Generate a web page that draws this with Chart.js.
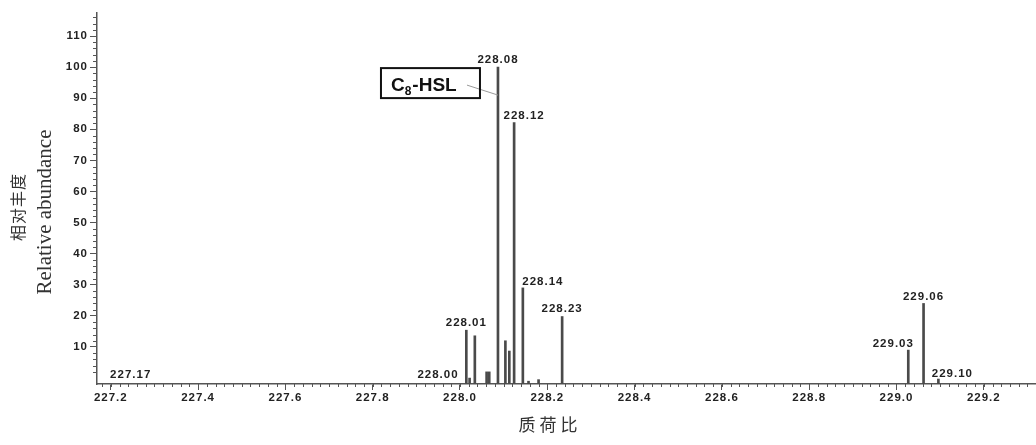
<!DOCTYPE html>
<html>
<head>
<meta charset="utf-8">
<script src="https://cdn.jsdelivr.net/npm/chart.js@4.4.0/dist/chart.umd.min.js"></script>
<style>
  body { margin: 0; background: #fff; }
  #wrap { width: 1036px; height: 445px; }
</style>
</head>
<body>
<div id="wrap"><canvas id="myChart" width="1036" height="445"></canvas></div>
<script>
// Datos del espectro (m/z y abundancia relativa)
const mz = [228.0145, 228.022, 228.034, 228.061, 228.067, 228.087, 228.104, 228.113, 228.124, 228.144, 228.157, 228.18, 228.234, 229.027, 229.062, 229.096];
const abundance = [15.4, 0, 13.6, 2, 2, 100, 12, 8.7, 82.2, 29, -1, -0.5, 19.8, 9, 24, -0.3];

// Etiquetas de los picos
const peakLabels = ["227.17", "228.00", "228.01", "228.08", "228.12", "228.14", "228.23", "229.03", "229.06", "229.10"];
const peakLabelMz = [227.17, 228.00, 228.0145, 228.087, 228.124, 228.144, 228.234, 229.027, 229.062, 229.096];
const peakLabelAb = [0, 0, 15.4, 100, 82.2, 29, 19.8, 9, 24, -0.3];

// Ticks de los ejes
const xTicks = [227.2, 227.4, 227.6, 227.8, 228.0, 228.2, 228.4, 228.6, 228.8, 229.0, 229.2];
const yTicks = [10, 20, 30, 40, 50, 60, 70, 80, 90, 100, 110];

const compound = { name: "C", sub: "8", rest: "-HSL", mz: 228.087, ab: 91 };
const yTitle = ["相对丰度", "Relative abundance"];
const xTitle = "质荷比";

const X_MIN = 227.1684, X_MAX = 229.3196;
const Y_MIN = -1.9, Y_MAX = 117.4;

// desplazamiento de cada etiqueta respecto al pico (pixeles)
const labelOffsets = [[33, -3], [-22, -3], [0, -7], [0, -7], [10, -7], [20, -6], [0, -8], [-15, -6], [0, -7], [14, -5]];

const axisColor = "#555";
const tickFont = { family: "Liberation Sans", size: 11.5, weight: "bold" };

const extras = {
    id: "extras",
    beforeDraw(chart) {
        chart.ctx.letterSpacing = "1px";
    },
    afterDraw(chart) {
        const ctx = chart.ctx;
        const x = chart.scales.x, y = chart.scales.y;
        const area = chart.chartArea;
        ctx.save();
        // ticks menores
        ctx.strokeStyle = axisColor;
        ctx.lineWidth = 1;
        ctx.beginPath();
        for (let v = 0; v <= 116; v += 2) {
            if (v % 10 === 0) continue;
            const py = Math.round(y.getPixelForValue(v)) + 0.5;
            ctx.moveTo(area.left - 4, py);
            ctx.lineTo(area.left, py);
        }
        for (let k = 0; k <= 107; k++) {
            const v = 227.18 + k * 0.02;
            if (v > X_MAX) break;
            const px = Math.round(x.getPixelForValue(v)) + 0.5;
            ctx.moveTo(px, area.bottom);
            ctx.lineTo(px, area.bottom + 3);
        }
        ctx.stroke();

        // etiquetas de picos
        ctx.letterSpacing = "1px";
        ctx.fillStyle = "#222";
        ctx.font = "bold 11.5px 'Liberation Sans'";
        ctx.textAlign = "center";
        ctx.textBaseline = "middle";
        peakLabels.forEach((t, i) => {
            const px = x.getPixelForValue(peakLabelMz[i]);
            const py = y.getPixelForValue(peakLabelAb[i]);
            ctx.fillText(t, px + labelOffsets[i][0], py + labelOffsets[i][1]);
        });

        // recuadro del compuesto
        ctx.letterSpacing = "0px";
        const ax = x.getPixelForValue(compound.mz);
        const ay = y.getPixelForValue(compound.ab);
        const bx = ax - 117, by = ay - 27;
        ctx.strokeStyle = "#999";
        ctx.lineWidth = 1;
        ctx.beginPath();
        ctx.moveTo(bx + 86, by + 17);
        ctx.lineTo(ax, ay);
        ctx.stroke();
        ctx.strokeStyle = "#111";
        ctx.lineWidth = 2;
        ctx.strokeRect(bx, by, 99, 30);
        ctx.fillStyle = "#111";
        ctx.textAlign = "left";
        ctx.textBaseline = "alphabetic";
        ctx.font = "bold 19px 'Liberation Sans'";
        ctx.fillText(compound.name, bx + 10, by + 23);
        const cw = ctx.measureText(compound.name).width;
        ctx.font = "bold 12px 'Liberation Sans'";
        ctx.fillText(compound.sub, bx + 10 + cw, by + 27);
        const sw = ctx.measureText(compound.sub).width;
        ctx.font = "bold 19px 'Liberation Sans'";
        ctx.fillText(compound.rest, bx + 10 + cw + sw + 1, by + 23);

        // titulos de ejes
        ctx.fillStyle = "#333";
        ctx.textAlign = "center";
        ctx.textBaseline = "middle";
        ctx.save();
        ctx.translate(18, 207);
        ctx.rotate(-Math.PI / 2);
        ctx.letterSpacing = "1px";
        ctx.font = "16px 'Noto Sans CJK SC'";
        ctx.fillText(yTitle[0], 0, 0);
        ctx.restore();
        ctx.save();
        ctx.translate(45, 212);
        ctx.rotate(-Math.PI / 2);
        ctx.letterSpacing = "0px";
        ctx.font = "21px 'Liberation Serif'";
        ctx.fillText(yTitle[1], 0, 0);
        ctx.restore();
        ctx.letterSpacing = "4px";
        ctx.font = "17px 'Noto Sans CJK SC'";
        ctx.fillText(xTitle, 550, 425);
        ctx.restore();
    }
};

const config = {
    type: "bar",
    data: {
        datasets: [{
            data: mz.map((m, i) => ({ x: m, y: [Y_MIN, abundance[i]] })),
            backgroundColor: "#4a4a4a",
            borderWidth: 0,
            barThickness: 2
        }]
    },
    options: {
        responsive: false,
        devicePixelRatio: 1,
        animation: false,
        layout: { padding: { top: 13, right: 0, left: 0, bottom: 0 } },
        plugins: { legend: { display: false }, tooltip: { enabled: false } },
        scales: {
            x: {
                type: "linear",
                offset: false,
                min: X_MIN,
                max: X_MAX,
                afterBuildTicks: (s) => { s.ticks = xTicks.map(v => ({ value: v })); },
                afterFit: (s) => { s.height = 61; },
                ticks: {
                    autoSkip: false,
                    maxRotation: 0,
                    padding: 1,
                    color: "#222",
                    font: tickFont,
                    callback: (v) => Number(v).toFixed(1)
                },
                grid: { display: true, drawOnChartArea: false, drawTicks: true, tickLength: 6, color: axisColor, offset: false },
                border: { display: true, color: axisColor, width: 1.5 }
            },
            y: {
                min: Y_MIN,
                max: Y_MAX,
                afterBuildTicks: (s) => { s.ticks = yTicks.map(v => ({ value: v })); },
                afterFit: (s) => { s.width = 97; },
                ticks: {
                    autoSkip: false,
                    padding: 2,
                    color: "#222",
                    font: tickFont
                },
                grid: { display: true, drawOnChartArea: false, drawTicks: true, tickLength: 7, color: axisColor },
                border: { display: true, color: axisColor, width: 1.5 }
            }
        }
    },
    plugins: [extras]
};

const chartDOM = document.getElementById("myChart");
window.grafica = new Chart(chartDOM, config);
</script>
</body>
</html>
